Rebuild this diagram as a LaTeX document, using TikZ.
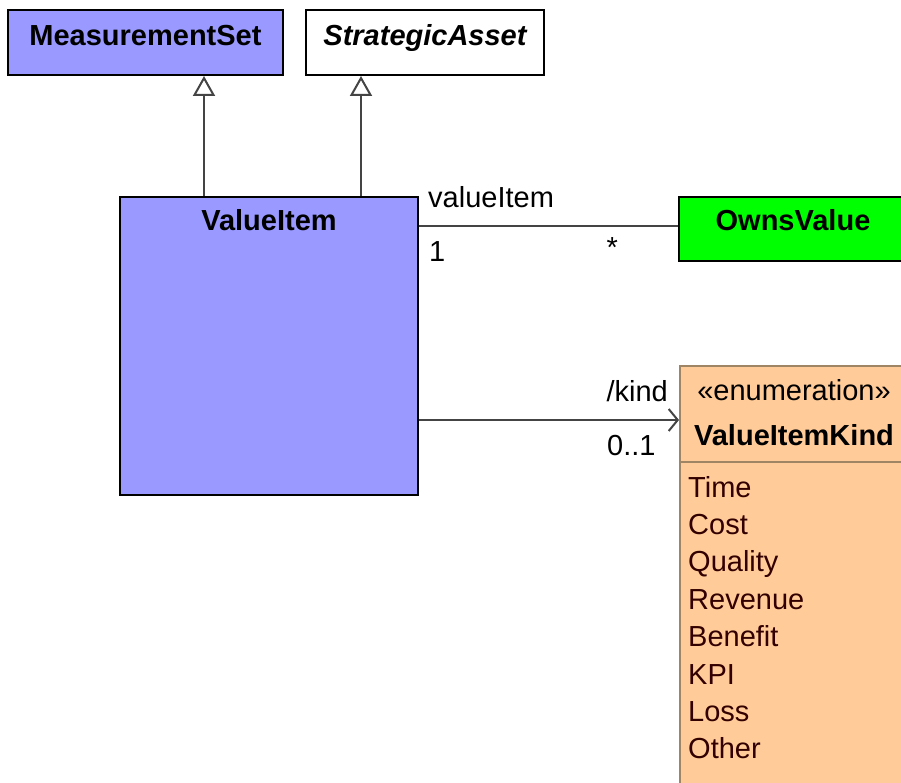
\documentclass[tikz,border=0pt]{standalone}
\usepackage{fontspec}
\setmainfont{Liberation Sans}
\usetikzlibrary{arrows.meta,calc,positioning}
\definecolor{klblau}{HTML}{9999FF}
\definecolor{klgruen}{HTML}{00FF00}
\definecolor{enumfill}{HTML}{FFCC99}
\definecolor{enumrand}{HTML}{A08565}
\definecolor{enumtext}{HTML}{330000}
\definecolor{linie}{HTML}{444444}
\newcommand{\gross}{\fontsize{29}{34}\selectfont}
\tikzset{
  klasse/.style={draw=black,line width=2pt,anchor=north west,inner sep=0pt},
  titel/.style={font=\gross\bfseries,anchor=base,inner sep=0pt},
  titeli/.style={font=\gross\bfseries\itshape,anchor=base,inner sep=0pt},
  txt/.style={font=\gross,inner sep=0pt},
  gen/.style={-{Triangle[open,length=20pt,width=22pt,fill=white]},linie,line width=2pt},
  assoc/.style={linie,line width=2pt},
  nav/.style={-{Straight Barb[length=9pt,width=22pt]},linie,line width=2pt},
}

\begin{document}
\begin{tikzpicture}[x=1pt,y=-1pt]
  \clip (0,0) rectangle (901,783);
  % classes
  \node[klasse,fill=klblau,minimum width=275pt,minimum height=65pt] (ms) at (7,9) {};
  \node[titel] (mst) at ($(ms.north)+(0,37)$) {MeasurementSet};
  \node[klasse,fill=white,minimum width=238pt,minimum height=65pt] (sa) at (305,9) {};
  \node[titeli] (sat) at ($(sa.north)+(0,37)$) {StrategicAsset};
  \node[klasse,fill=klblau,minimum width=298pt,minimum height=298pt] (vi) at (119,196) {};
  \node[titel] (vit) at ($(vi.north)+(0,35)$) {ValueItem};
  \node[klasse,fill=klgruen,minimum width=228pt,minimum height=64pt] (ov) at (678,196) {};
  \node[titel] (ovt) at ($(ov.north)+(0,35)$) {OwnsValue};
  % enumeration
  \node[klasse,draw=enumrand,fill=enumfill,minimum width=228pt,minimum height=440pt] (ek) at (679,365) {};
  \draw[enumrand,line width=2pt] ($(ek.north west)+(0,97)$) -- ($(ek.north east)+(0,97)$);
  \node[txt,anchor=base] (eks) at ($(ek.north)+(0,35)$) {«enumeration»};
  \node[titel] (ekt) at ($(ek.north)+(0,80)$) {ValueItemKind};
  \foreach \w [count=\i from 0] in {Time,Cost,Quality,Revenue,Benefit,KPI,Loss,Other}
    \node[txt,text=enumtext,anchor=base west] (it\i) at ($(ek.north west)+(9,132+37.4*\i)$) {\w};
  % generalizations
  \coordinate (g1) at ($(vi.north west)+(85,0)$);
  \coordinate (g2) at ($(vi.north west)+(242,0)$);
  \draw[gen] (g1) -- (g1 |- ms.south);
  \draw[gen] (g2) -- (g2 |- sa.south);
  % association
  \draw[assoc] ($(vi.north east)+(0,30)$) coordinate (a1) -- (a1 -| ov.west) coordinate (a2);
  \node[txt,anchor=base west] (rol) at ($(a1)+(9,-18)$) {valueItem};
  \node[txt,anchor=base west] (m1) at ($(a1)+(10,36)$) {1};
  \node[txt,anchor=base east] (m2) at ($(a2)+(-60,32)$) {*};
  % navigable
  \draw[nav] ($(vi.north east)+(0,224)$) coordinate (k1) -- (k1 -| ek.west) coordinate (k2);
  \node[txt,anchor=base east] (kr) at ($(k2)+(-11,-19)$) {/kind};
  \node[txt,anchor=base west] (km) at ($(k2)+(-72,35)$) {0..1};
\end{tikzpicture}
\end{document}
